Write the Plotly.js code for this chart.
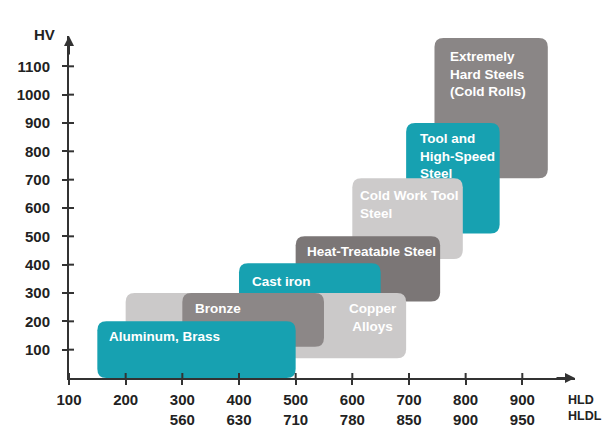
<!DOCTYPE html>
<html>
<head>
<meta charset="utf-8">
<script src="https://cdn.plot.ly/plotly-3.0.1.min.js"></script>
<style>html,body{margin:0;padding:0;background:#fff;}#chart{width:606px;height:430px;}</style>
</head>
<body>
<div id="chart"></div>
<script>
// Materials (drawn back to front)
const materials = ["Extremely<br>Hard Steels<br>(Cold Rolls)", "Tool and<br>High-Speed<br>Steel", "Cold Work Tool<br>Steel", "Heat-Treatable Steel", "Cast iron", "Copper<br>Alloys", "Bronze", "Aluminum, Brass"];
const hldMin = [745, 695, 600, 500, 400, 200, 300, 150];
const hldMax = [945, 860, 795, 755, 650, 695, 550, 500];
const hvMin  = [705, 510, 420, 270, 150, 70, 110, 0];
const hvMax  = [1200, 900, 705, 500, 405, 300, 300, 200];
// label anchor positions (HLD, HV)
const labelX = [768, 716, 610, 516, 419, 637, 319, 167];
const labelY = [1073, 784, 614, 445, 342, 215, 247, 148];
const labelAlign = ["left", "left", "left", "left", "left", "center", "left", "left"];
const colors = ["#8a8686", "#17a1b1", "#cdcbcb", "#7b7676", "#17a1b1", "#cbc9c9", "#8c8787", "#17a1b1"];

// Axis ticks
const hldTicks  = [100, 200, 300, 400, 500, 600, 700, 800, 900];
const hldlTicks = [null, null, 560, 630, 710, 780, 850, 900, 950];
const hvTicks   = [100, 200, 300, 400, 500, 600, 700, 800, 900, 1000, 1100];

const xRange = [100, 993];
const yRange = [0, 1207];
const W = 606, H = 430, mL = 69, mR = 31, mT = 36, mB = 52;
const pxPerX = (W - mL - mR) / (xRange[1] - xRange[0]);
const pxPerY = (H - mT - mB) / (yRange[1] - yRange[0]);
const R = 9;
const rx = R / pxPerX, ry = R / pxPerY;

function roundRect(x0, x1, y0, y1) {
  return `M${x0+rx},${y0} L${x1-rx},${y0} Q${x1},${y0} ${x1},${y0+ry} L${x1},${y1-ry} Q${x1},${y1} ${x1-rx},${y1} L${x0+rx},${y1} Q${x0},${y1} ${x0},${y1-ry} L${x0},${y0+ry} Q${x0},${y0} ${x0+rx},${y0} Z`;
}

const shapes = materials.map((m, i) => ({
  type: "path", xref: "x", yref: "y", layer: "below",
  path: roundRect(hldMin[i], hldMax[i], hvMin[i], hvMax[i]),
  fillcolor: colors[i], line: {width: 0}
}));
// inner half of the cross ticks
hvTicks.forEach(v => shapes.push({type: "line", xref: "x", yref: "y", xsizemode: "pixel", xanchor: 100, x0: 0, x1: 5, y0: v, y1: v, line: {color: "#333", width: 2}, layer: "above"}));
hldTicks.forEach(v => shapes.push({type: "line", xref: "x", yref: "y", ysizemode: "pixel", yanchor: 0, y0: 0, y1: 5, x0: v, x1: v, line: {color: "#333", width: 2}, layer: "above"}));

const white = {family: "Liberation Sans, Arial, sans-serif", size: 13.5, color: "#ffffff", weight: 700};
const dark = {family: "Liberation Sans, Arial, sans-serif", size: 15, color: "#222", weight: 700};
const darkSmall = {family: "Liberation Sans, Arial, sans-serif", size: 12.5, color: "#222", weight: 700};

const annotations = materials.map((m, i) => ({
  x: labelX[i], y: labelY[i], xref: "x", yref: "y", text: m, showarrow: false,
  xanchor: labelAlign[i], yanchor: "middle", align: labelAlign[i], font: white
}));
annotations.push({xref: "paper", yref: "paper", x: 1, y: 0, ax: -20, ay: 0, axref: "pixel", ayref: "pixel", text: "", showarrow: true, arrowhead: 2, arrowsize: 1, arrowwidth: 2, arrowcolor: "#333"});
annotations.push({xref: "paper", yref: "paper", x: 0, y: 1, ax: 0, ay: 20, axref: "pixel", ayref: "pixel", text: "", showarrow: true, arrowhead: 2, arrowsize: 1, arrowwidth: 2, arrowcolor: "#333"});
annotations.push({xref: "paper", yref: "paper", x: -0.048, y: 1.003, text: "HV", showarrow: false, xanchor: "center", yanchor: "middle", font: dark});
annotations.push({xref: "paper", yref: "paper", x: 0.983, y: -0.037, text: "HLD<br>HLDL", showarrow: false, xanchor: "left", yanchor: "top", align: "left", font: darkSmall});

const ticktext = hldTicks.map((v, i) => hldlTicks[i] === null ? String(v) : v + "<br>" + hldlTicks[i]);

const layout = {
  width: W, height: H,
  margin: {l: mL, r: mR, t: mT, b: mB},
  paper_bgcolor: "#fff", plot_bgcolor: "#fff",
  showlegend: false,
  font: dark,
  xaxis: {range: xRange, tickvals: hldTicks, ticktext: ticktext, showgrid: false, zeroline: false,
          showline: true, linecolor: "#333", linewidth: 2, ticks: "outside", ticklen: 5, tickwidth: 2, tickcolor: "#333",
          tickfont: dark, ticklabelstandoff: 2, fixedrange: true},
  yaxis: {range: yRange, tickvals: hvTicks, showgrid: false, zeroline: false,
          showline: true, linecolor: "#333", linewidth: 2, ticks: "outside", ticklen: 5, tickwidth: 2, tickcolor: "#333",
          tickfont: dark, ticklabelstandoff: 9, fixedrange: true},
  shapes: shapes,
  annotations: annotations
};

const trace = {x: [], y: [], type: "scatter", mode: "markers", hoverinfo: "skip"};
Plotly.newPlot("chart", [trace], layout, {staticPlot: true, displayModeBar: false});
</script>
</body>
</html>
